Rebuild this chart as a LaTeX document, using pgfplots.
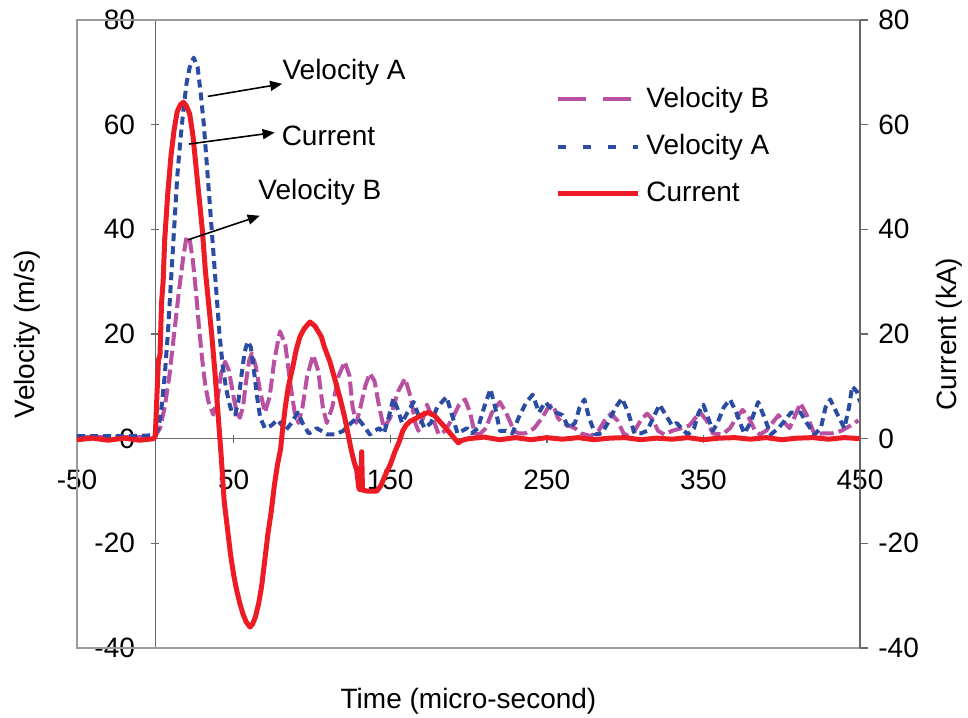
\documentclass[border=0pt]{standalone}
\usepackage{fontspec}
\setmainfont{Liberation Sans}
\usepackage{pgfplots}
\pgfplotsset{compat=1.18}
\usetikzlibrary{arrows.meta}
\definecolor{cred}{RGB}{237,28,36}
\definecolor{cblue}{RGB}{42,76,162}
\definecolor{cmag}{RGB}{185,80,162}
\definecolor{frameg}{RGB}{155,155,155}
\definecolor{axisg}{RGB}{105,105,105}
\pgfplotsset{
  common/.style={
    at={(0pt,0pt)}, anchor=south west,
    scale only axis, width=391.5pt, height=314pt,
    xmin=-50, xmax=450, ymin=-40, ymax=80,
    tick align=outside, major tick length=4pt,
    tick style={draw=axisg, line width=0.7pt},
    axis line style={draw=axisg, line width=0.7pt},
    /pgf/number format/assume math mode=true,
    ytick={-40,-20,...,80},
    clip mode=individual,
  }
}
\begin{document}
\fontsize{14pt}{16.8pt}\selectfont
\begin{tikzpicture}[font=\fontsize{14pt}{16.8pt}\selectfont]
\useasboundingbox (-38.5pt,-34.5pt) rectangle (445.5pt,324pt);
\begin{axis}[common,
  axis lines=middle,
  every inner x axis line/.append style={-},
  every inner y axis line/.append style={-},
  xtick={-50,50,...,450},
  hide obscured x ticks=false, hide obscured y ticks=false,
  xticklabel style={anchor=north, inner sep=0pt, yshift=-13.5pt},
  yticklabel style={anchor=east, inner sep=0pt, xshift=-8pt},
  xlabel={Time (micro-second)},
  ylabel={Velocity (m/s)},
  every axis x label/.style={at={(rel axis cs:0.5,0)}, anchor=center, yshift=-26.5pt},
  every axis y label/.style={at={(rel axis cs:0,0.5)}, xshift=-25pt, rotate=90, anchor=center},
]
\draw[frameg, line width=0.7pt] (rel axis cs:0,0) rectangle (rel axis cs:1,1);
% Velocity B
\addplot[cmag, line width=2pt, line join=round, dash pattern=on 7pt off 2.5pt] coordinates {
(-50,0.3) (-20,0.3) (-5,0.3) (0,0.5) (3,2) (6,6) (9,12) (12,20) (15,28) (18,35) (20,38.6) (22,38) (24,34) (26,28) (28,21) (30,15) (32,10) (34,7) (37,4.6) (40,8) (42,12.5) (44.6,14.7) (47,13) (50,8) (52,5) (54,4) (56,6) (58,11) (60,15) (61.6,16.3) (64,14) (67,9) (70,5) (73,8) (76,15) (79.6,20.5) (83,18) (86,11) (89,5) (91.5,3) (94,6) (97,12) (100.8,16) (104,13) (107,6) (109.5,3) (113,6) (117,12) (121,14.7) (124,12) (126,6) (128.4,3) (131,6) (134,10) (137,12.5) (140,11) (143,6) (146,2) (150,4) (155,9) (159.5,11.5) (163,8) (166,3) (168,1.5) (171,4) (173.5,6.5) (177,4) (181,0.8) (185,1.5) (190,4) (194,6.5) (197.8,7.5) (201,5) (204,1) (207,0.8) (211,2) (215,5) (220,7) (224,5) (229,1.5) (232,1) (236,1) (242,2) (247,4) (251,6) (254,6.5) (257,4) (260,3) (264,2.5) (268,2) (272,1) (278,0.5) (283,1.5) (287,3.5) (291,4.8) (295,3.5) (299,1) (302,0.5) (306,1.5) (310,3.5) (314,4.8) (318,3.5) (321,1.5) (325,0.8) (330,1.5) (336,2) (341,2.5) (345,4) (348,5) (352,3.5) (356,1) (362,0.8) (367,2) (371,4) (375,5.5) (379,4) (383,1.5) (386,0.8) (390,1.5) (394,3) (398,4.5) (402,3) (405,2) (408,4) (412,6.8) (416,4.5) (421,0.8) (426,1) (432,1) (438,1.5) (444,2.5) (449,3.5)
};
% Velocity A
\addplot[cblue, line width=2pt, line join=round, dash pattern=on 4pt off 2.5pt] coordinates {
(-50,0.5) (-20,0.5) (-5,0.6) (0,0.8) (2,2) (4,6) (6,12) (8,20) (10,30) (12,40) (14,50) (16,57) (18,63) (20,68) (22,71) (24.5,72.8) (27,71) (29,66) (31,60) (33,52) (35,44) (37,36) (39,28) (41,20) (43,14) (45,10) (47,7) (49,5) (51,4.6) (53,7) (55,12) (57,16.5) (59,18.6) (61,17.5) (63,13) (65,8) (67,4) (70,2) (74,2.5) (78,3.6) (81,2.5) (83,1.5) (87,3) (91,5) (94,3) (98,1) (101,1.5) (103,2) (106,1.5) (110,0.8) (115,0.8) (120,1.5) (125,3) (129,4) (133,2.5) (137,0.8) (140,1.5) (143,2) (146,1) (149,4) (152,7.7) (155,5.5) (157.5,3) (161,5) (165,7) (168,4.5) (172,2) (176,3) (180,6) (186,8) (189,5) (193,1) (196,1.5) (199,2) (202,1) (206,2) (210,6) (214,9.5) (217,6) (220,1.5) (224,1.5) (228,1) (232,4) (237,7) (241,8.4) (245,5) (249,7) (252,6) (256,5) (260,4.5) (264,2) (268,3) (271,6) (274,7.5) (277,4) (281,0.8) (285,1) (289,3) (294,6) (298,7.7) (302,5) (306,1) (310,1) (314,1.5) (318,4) (322,6.5) (326,4.5) (330,2.5) (333,3) (336,2) (340,0.8) (344,2) (347,5) (350,6.5) (353,4) (356,1.5) (359,3) (363,6) (367,7.5) (371,5) (376,1) (380,3) (385,7) (389,4) (393,0.8) (398,2) (402,3.5) (406,5) (412,5) (416,3) (421,0.8) (425,2) (428,6) (431,7.5) (435,5) (440,2) (443,6) (445,10) (448,9) (450,7)
};
\end{axis}
\begin{axis}[common,
  axis x line=none, axis y line*=right,
  yticklabel style={anchor=west, inner sep=0pt, xshift=5pt},
  ylabel={Current (kA)},
  every axis y label/.style={at={(rel axis cs:1,0.5)}, xshift=44.5pt, rotate=90, anchor=center},
  legend image code/.code={\draw[#1] (0pt,0pt) -- (40pt,0pt);},
  legend cell align=left,
  legend style={draw=none, fill=none, inner sep=0pt, row sep=9.4pt,
    nodes={inner sep=1pt}, text depth=0pt,
    at={(rel axis cs:0.6105,0.897)}, anchor=north west},
  /tikz/every odd column/.style={column sep=2pt},
]
\addlegendimage{cmag, line width=2pt, dash pattern=on 14pt off 8.5pt}
\addlegendentry{Velocity B}
\addlegendimage{cblue, line width=2pt, dash pattern=on 4pt off 8.5pt}
\addlegendentry{Velocity A}
\addplot[cred, line width=2.5pt, line join=round] coordinates {
(-50,-0.2) (-40,0.1) (-30,-0.3) (-20,0.1) (-10,-0.3) (-1,0) (0,0.5) (1,8) (2,15) (3,16) (4,26) (5,30) (6,38) (8,47) (10,54) (12,59) (14,62.5) (16,63.8) (18,64.3) (20,63.5) (22,62) (24,58) (26,52) (28,46) (30,40) (32,32) (34,26) (36,20) (38,13) (40,5) (42,-3) (44,-12) (46,-17) (48,-22) (50,-26) (52,-29) (54,-31.5) (56,-33.5) (58,-35) (60.5,-36) (62,-35.5) (64,-34) (66,-31.5) (68,-28) (70,-23) (72,-18) (74,-14) (76,-9) (78,-5) (80,-2) (81,1) (83,6) (85,10) (88,14) (90,17) (92.4,19.5) (95,21) (98.8,22.3) (102,21.5) (106,19.5) (108,17.5) (111.5,14.7) (115,11) (118,7.7) (121,4) (123,1) (125,-2) (127,-4.5) (128.6,-6) (130,-9.5) (131,-9.8) (131.8,-2.5) (132.3,-9.8) (135,-10) (138,-10) (141.5,-10) (144,-9) (147.8,-6.3) (150,-5) (153,-2.5) (156,-0.4) (158,1.5) (160,2.5) (162.6,3.3) (166,3.8) (170,4.5) (174,5) (178,4.5) (181,3.5) (184,2.5) (187,1.5) (190,0.4) (193.5,-0.8) (196,-0.3) (200,0) (210,0.3) (220,-0.2) (230,0.2) (240,-0.2) (250,0.2) (260,-0.1) (270,0.2) (280,-0.2) (290,0.1) (300,0.2) (310,-0.2) (320,0.1) (330,-0.1) (340,0.2) (350,-0.2) (360,0.1) (370,0.2) (380,-0.1) (390,0.2) (400,-0.2) (410,0.1) (420,0.2) (430,-0.1) (440,0.2) (450,0)
};
\addlegendentry{Current}
\draw[-{Triangle[length=6pt,width=5pt]}, line width=0.8pt] (axis cs:33.5,65.4) -- (axis cs:81,67.8);
\node[anchor=west, inner sep=0pt] at (axis cs:81,70) {Velocity A};
\draw[-{Triangle[length=6pt,width=5pt]}, line width=0.8pt] (axis cs:21.5,56.3) -- (axis cs:76.2,58.5);
\node[anchor=west, inner sep=0pt] at (axis cs:80.5,57.9) {Current};
\draw[-{Triangle[length=6pt,width=5pt]}, line width=0.8pt] (axis cs:20.9,38) -- (axis cs:66.7,42.6);
\node[anchor=west, inner sep=0pt] at (axis cs:65.6,47) {Velocity B};
\end{axis}
\end{tikzpicture}
\end{document}
